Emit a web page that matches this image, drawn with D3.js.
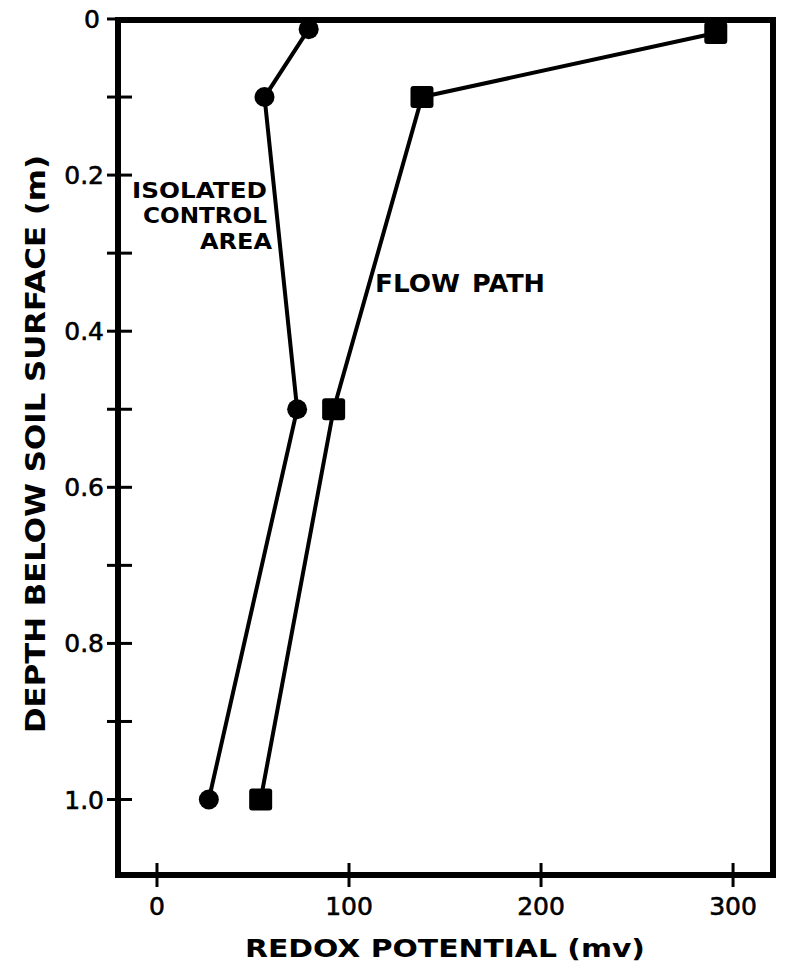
<!DOCTYPE html>
<html>
<head>
<meta charset="utf-8">
<script src="https://cdn.jsdelivr.net/npm/d3@7"></script>
<style>
  html, body { margin: 0; padding: 0; background: #fff; }
  svg { display: block; }
  text { font-family: "DejaVu Sans", sans-serif; fill: #000; }
</style>
</head>
<body>
<svg id="chart" width="785" height="967"></svg>
<script>
// Redox potential (mV) against depth below the soil surface (m)
const controlDepth = [0.013, 0.10, 0.50, 1.00];
const controlRedox = [79, 56, 73, 27];
const flowDepth = [0.018, 0.10, 0.50, 1.00];
const flowRedox = [291, 138, 92, 54];

const redoxTicks = [0, 100, 200, 300];
const depthTicks = [0, 0.1, 0.2, 0.3, 0.4, 0.5, 0.6, 0.7, 0.8, 0.9, 1.0];
const depthLabels = ["0", "0.2", "0.4", "0.6", "0.8", "1.0"];

const svg = d3.select("#chart");

const x = d3.scaleLinear().domain([-20.3, 320.8]).range([118, 773]);
const y = d3.scaleLinear().domain([0.0013, 1.0967]).range([20, 875]);

const [x0, x1] = x.range();
const [y0, y1] = y.range();

// plot frame
svg.append("rect")
  .attr("x", x0).attr("y", y0)
  .attr("width", x1 - x0).attr("height", y1 - y0)
  .attr("fill", "none").attr("stroke", "#000").attr("stroke-width", 6);

// depth ticks (cross the left edge)
svg.append("g").selectAll("line").data(depthTicks).join("line")
  .attr("x1", x0 - 11)
  .attr("x2", d => d === 0 ? x0 : x0 + 14)
  .attr("y1", d => y(d)).attr("y2", d => y(d))
  .attr("stroke", "#000").attr("stroke-width", 3);

svg.append("g").selectAll("text").data(depthLabels).join("text")
  .attr("x", d => d === "0" ? x0 - 18 : x0 - 14)
  .attr("y", d => y(+d))
  .attr("dy", "0.36em")
  .attr("text-anchor", "end")
  .attr("font-size", 25)
  .attr("stroke", "#000").attr("stroke-width", 0.6)
  .text(d => d);

// redox ticks (cross the bottom edge)
svg.append("g").selectAll("line").data(redoxTicks).join("line")
  .attr("x1", d => x(d)).attr("x2", d => x(d))
  .attr("y1", y1 - 12).attr("y2", y1 + 12)
  .attr("stroke", "#000").attr("stroke-width", 3);

svg.append("g").selectAll("text").data(redoxTicks).join("text")
  .attr("x", d => x(d))
  .attr("y", 915)
  .attr("text-anchor", "middle")
  .attr("font-size", 25)
  .attr("stroke", "#000").attr("stroke-width", 0.6)
  .text(d => d);

// axis titles
svg.append("text")
  .attr("x", 245).attr("y", 957)
  .attr("font-size", 25).attr("font-weight", "bold")
  .attr("textLength", 400).attr("lengthAdjust", "spacingAndGlyphs")
  .text("REDOX POTENTIAL (mv)");

svg.append("text")
  .attr("transform", "translate(45,733) rotate(-90)")
  .attr("font-size", 27).attr("font-weight", "bold")
  .attr("textLength", 578).attr("lengthAdjust", "spacingAndGlyphs")
  .text("DEPTH BELOW SOIL SURFACE (m)");

// profiles
const line = d3.line().x(d => x(d[0])).y(d => y(d[1]));
const controlPts = controlRedox.map((v, i) => [v, controlDepth[i]]);
const flowPts = flowRedox.map((v, i) => [v, flowDepth[i]]);

svg.append("path").datum(controlPts).attr("d", line)
  .attr("fill", "none").attr("stroke", "#000").attr("stroke-width", 4);
svg.append("path").datum(flowPts).attr("d", line)
  .attr("fill", "none").attr("stroke", "#000").attr("stroke-width", 4);

svg.append("g").selectAll("circle").data(controlPts).join("circle")
  .attr("cx", d => x(d[0])).attr("cy", d => y(d[1]))
  .attr("r", 10).attr("fill", "#000");

svg.append("g").selectAll("rect").data(flowPts).join("rect")
  .attr("x", d => x(d[0]) - 11.5).attr("y", d => y(d[1]) - 11)
  .attr("width", 23).attr("height", 22).attr("rx", 3)
  .attr("fill", "#000");

// series labels
const controlLabel = [
  { t: "ISOLATED", x: 132, y: 198, w: 135 },
  { t: "CONTROL", x: 143, y: 223, w: 124 },
  { t: "AREA", x: 200, y: 249, w: 72 }
];
svg.append("g").selectAll("text").data(controlLabel).join("text")
  .attr("x", d => d.x).attr("y", d => d.y)
  .attr("font-size", 22).attr("font-weight", "bold")
  .attr("textLength", d => d.w).attr("lengthAdjust", "spacingAndGlyphs")
  .text(d => d.t);

const flowLabel = [
  { t: "FLOW", x: 375, w: 85 },
  { t: "PATH", x: 472, w: 73 }
];
svg.append("g").selectAll("text").data(flowLabel).join("text")
  .attr("x", d => d.x).attr("y", 292)
  .attr("font-size", 25).attr("font-weight", "bold")
  .attr("textLength", d => d.w).attr("lengthAdjust", "spacingAndGlyphs")
  .text(d => d.t);
</script>
</body>
</html>
